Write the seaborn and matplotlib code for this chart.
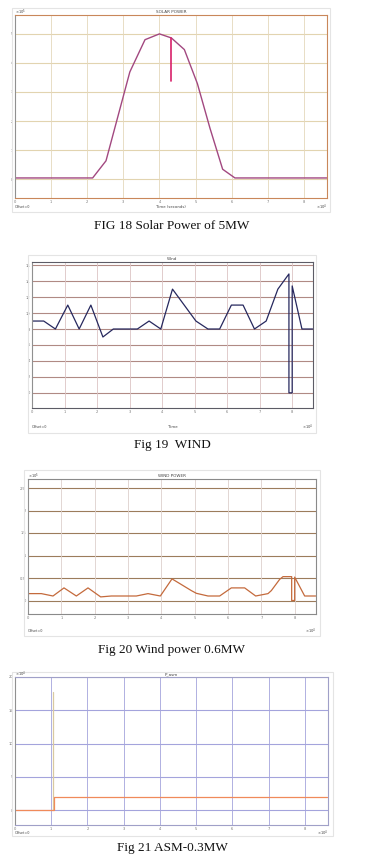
import numpy as np
import pandas as pd
import seaborn as sns
import matplotlib.pyplot as plt
from matplotlib.patches import Rectangle

# Fig 18 - solar power (x1e4 s, x1e5 W)
solar_t = [0, 2.15, 2.52, 3.18, 3.6, 4.0, 4.33, 4.69, 5.05, 5.4, 5.75, 6.09, 8.64]
solar_p = [0.04, 0.04, 0.63, 3.69, 4.8, 5.0, 4.86, 4.46, 3.29, 1.75, 0.34, 0.04, 0.04]
solar_dip_t = [4.33, 4.33]
solar_dip_p = [4.86, 3.38]

# Fig 19 - wind speed
wind_t = [0, 0.36, 0.72, 1.1, 1.45, 1.81, 2.18, 2.5, 3.24, 3.6, 3.96, 4.32, 5.04, 5.41,
          5.77, 6.13, 6.49, 6.84, 7.2, 7.56, 7.9, 7.9, 8.0, 8.0, 8.3, 8.63]
wind_v = [9, 9, 8, 11, 8, 11, 7, 8, 8, 9, 8, 13, 9, 8,
          8, 11, 11, 8, 9, 13, 14.9, 0, 0, 13.4, 8, 8]

# Fig 20 - wind power (x1e5)
wp_t = [0, 0.4, 0.75, 1.08, 1.45, 1.8, 2.18, 2.5, 3.25, 3.6, 3.97, 4.32, 4.5, 4.7, 4.9,
        5.05, 5.4, 5.75, 6.1, 6.5, 6.83, 7.2, 7.3, 7.45, 7.55, 7.65, 7.91, 7.91, 8.0,
        8.0, 8.3, 8.63]
wp_v = [0.153, 0.153, 0.10, 0.28, 0.10, 0.28, 0.08, 0.10, 0.10, 0.153, 0.10, 0.48, 0.40,
        0.31, 0.22, 0.16, 0.10, 0.10, 0.28, 0.28, 0.10, 0.153, 0.22, 0.37, 0.47, 0.53,
        0.53, 0, 0, 0.52, 0.10, 0.10]

# Fig 21 - ASM power
asm_t = [0, 1.08, 1.08, 8.6]
asm_v = [0, 0, 2.05, 2.05]
asm_spike_t = [1.04, 1.04]
asm_spike_v = [0, 17.7]

captions = ["FIG 18 Solar Power of 5MW", "Fig 19  WIND", "Fig 20 Wind power 0.6MW",
            "Fig 21 ASM-0.3MW"]

sns.set_style("white")
plt.rcParams['font.family'] = ['DejaVu Sans']

W, H = 367, 865
fig = plt.figure(figsize=(W / 100, H / 100), dpi=100)


def box(l, t, r, b):
    return fig.add_axes([l / W, 1 - b / H, (r - l) / W, (b - t) / H])


def frame(l, t, r, b):
    fig.patches.append(Rectangle((l / W, 1 - b / H), (r - l) / W, (b - t) / H,
                                 transform=fig.transFigure, fill=False,
                                 edgecolor="#e4e4e4", lw=0.8))


def ftext(x, y, s, **kw):
    fig.text(x / W, 1 - y / H, s, va="center", color="#444444", **kw)


def scope(ax, pos, title, yticks, ylim, hcol, vcol, spine, expo_top, expo_bot, lab_y,
          xlabel=""):
    l, t, r, b = pos
    ax.set_xlim(0, 8.64)
    ax.set_ylim(*ylim)
    ax.set_xticks(range(9))
    ax.set_yticks(yticks)
    ax.set_xticklabels([str(i) for i in range(9)], fontsize=2.6, color="#555555")
    ax.set_yticklabels([f"{v:g}" for v in yticks], fontsize=2.6, color="#555555")
    ax.tick_params(length=1.5, width=0.4, pad=1.5, direction="in", colors="#777777")
    for y in yticks:
        ax.axhline(y, color=hcol, lw=0.8, zorder=0)
    for x in range(1, 9):
        ax.axvline(x, color=vcol, lw=0.6, zorder=0)
    for s in ax.spines.values():
        s.set_color(spine)
        s.set_linewidth(0.8)
    ax.spines["left"].set_color("#909090")
    ax.set_title(title, fontsize=3, pad=1.5, color="#444444")
    ax.set_xlabel("")
    ax.set_ylabel("")
    ftext(l, lab_y, "Offset=0", fontsize=2.4)
    ftext((l + r) / 2, lab_y, xlabel, fontsize=2.8, ha="center")
    ftext(r, lab_y, expo_bot, fontsize=2.6, ha="right")
    if expo_top:
        ftext(l, t - 3, expo_top, fontsize=2.6)


# Fig 18
frame(12, 8, 330, 212)
p1 = (15, 15, 327, 198)
ax1 = box(*p1)
sns.lineplot(x=solar_t, y=solar_p, sort=False, estimator=None, color="#a24880", lw=1.0, ax=ax1)
sns.lineplot(x=solar_dip_t, y=solar_dip_p, sort=False, estimator=None, color="#d8206a",
             lw=1.2, ax=ax1)
scope(ax1, p1, "SOLAR POWER", [0, 1, 2, 3, 4, 5], (-0.65, 5.65), "#e2d4b0", "#e4d8bc",
      "#c9875a", "×10$^5$", "×10$^4$", 207, "Time (seconds)")

# Fig 19
frame(28, 255, 316, 433)
p2 = (32, 262, 313, 408)
ax2 = box(*p2)
sns.lineplot(x=wind_t, y=wind_v, sort=False, estimator=None, color="#26285e", lw=0.9, ax=ax2)
scope(ax2, p2, "Wind", list(range(0, 17, 2)), (-1.9, 16.4), "#b08a84", "#dcc4c4",
      "#5c5c66", "", "×10$^4$", 427, "Time")

# Fig 20
frame(24, 470, 320, 636)
p3 = (28, 479, 316, 614)
ax3 = box(*p3)
sns.lineplot(x=wp_t, y=wp_v, sort=False, estimator=None, color="#c46a3c", lw=0.9, ax=ax3)
scope(ax3, p3, "WIND POWER", [0, 0.5, 1, 1.5, 2, 2.5], (-0.3, 2.7), "#9c7c5c", "#ddd0cc",
      "#8a8a8a", "×10$^5$", "×10$^4$", 631)

# Fig 21
frame(12, 672, 333, 836)
p4 = (15, 677, 328, 825)
ax4 = box(*p4)
sns.lineplot(x=asm_spike_t, y=asm_spike_v, sort=False, estimator=None, color="#d9c9a0",
             lw=0.9, ax=ax4)
sns.lineplot(x=asm_t, y=asm_v, sort=False, estimator=None, color="#f08a5a", lw=0.9, ax=ax4)
scope(ax4, p4, "P_asm", [0, 5, 10, 15, 20], (-2.2, 20), "#a4a4dc", "#a4a4dc",
      "#a0a0c8", "×10$^4$", "×10$^4$", 833)

cap_y = [226, 445, 650, 848]
for c, y in zip(captions, cap_y):
    fig.text(172 / W, 1 - y / H, c, ha="center", va="center", fontsize=9.5,
             family="Liberation Serif", color="#111111")

fig.savefig("out.png", dpi=100)
